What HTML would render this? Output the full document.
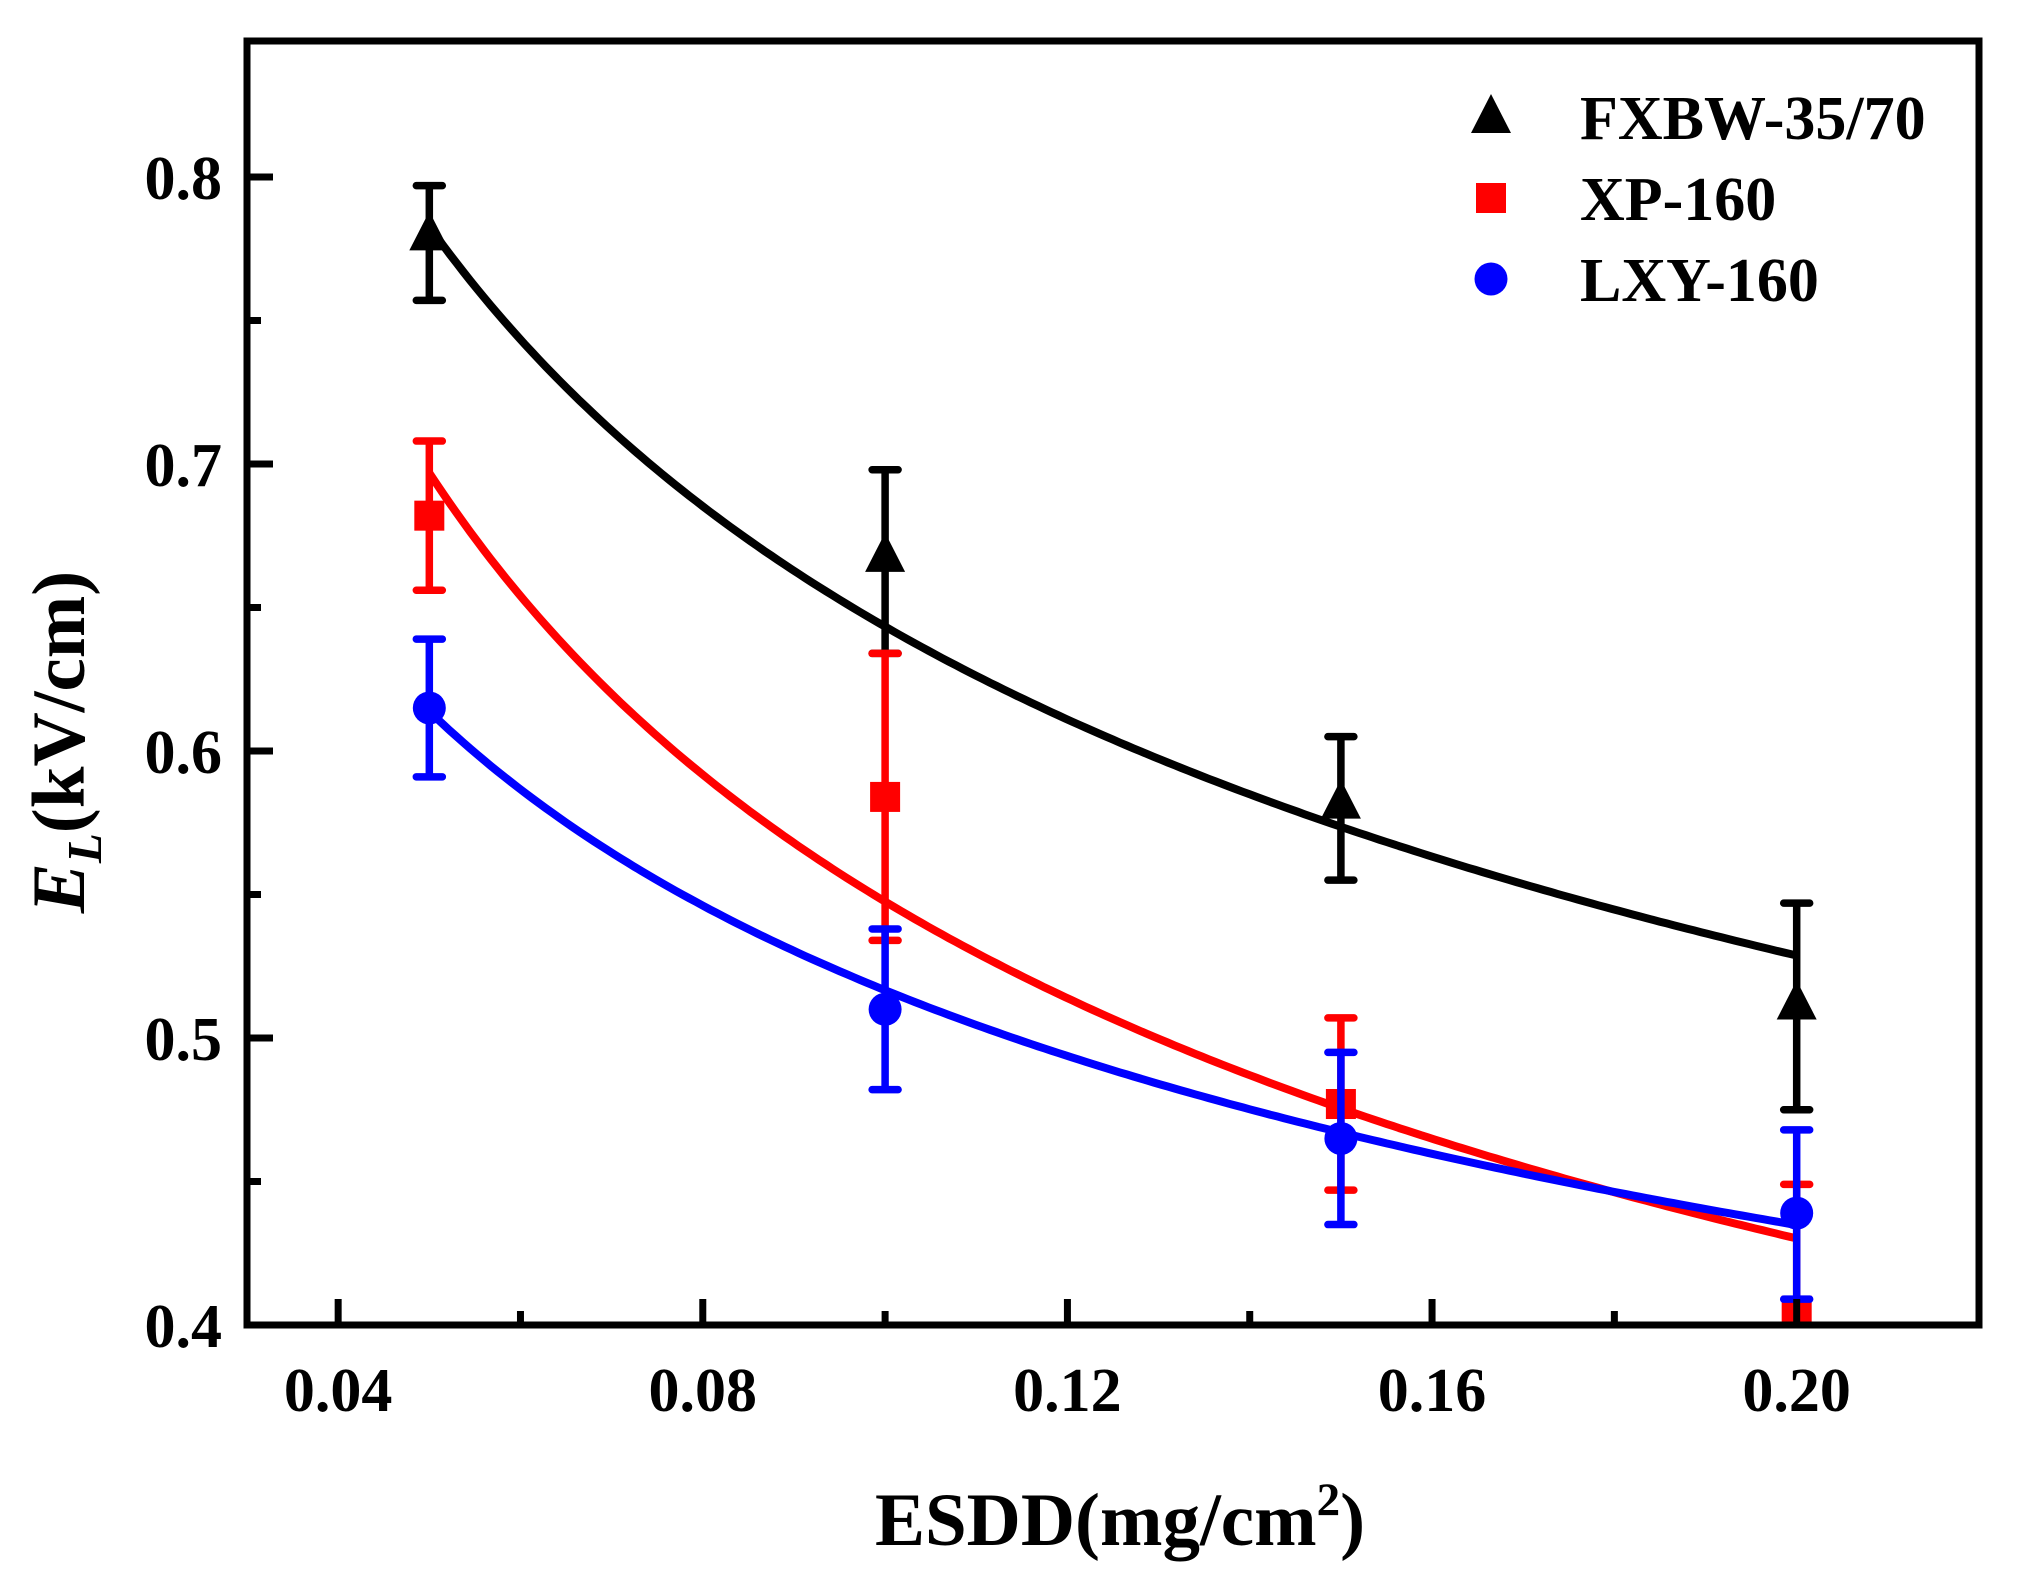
<!DOCTYPE html>
<html><head><meta charset="utf-8"><style>
html,body{margin:0;padding:0;background:#fff;}
svg{display:block;font-family:"Liberation Serif",serif;font-weight:bold;}
</style></head><body>
<svg id="chart" width="2027" height="1583" viewBox="0 0 2027 1583" xmlns="http://www.w3.org/2000/svg">
<rect x="0" y="0" width="2027" height="1583" fill="#fff"/>
<g id="plot"></g>
<g id="axes"></g>
<g id="legend"></g>
<text x="1120" y="1545" font-size="75" text-anchor="middle">ESDD(mg/cm<tspan font-size="47" dy="-30">2</tspan><tspan dy="30">)</tspan></text>
<text transform="translate(84,742) rotate(-90)" font-size="75" text-anchor="middle"><tspan font-style="italic">E</tspan><tspan font-style="italic" font-size="49" dy="17">L</tspan><tspan dy="-17">(kV/cm)</tspan></text>
</svg>
<script>
const xValues = [0.05, 0.10, 0.15, 0.20];
const fxbwValues = [0.780, 0.668, 0.582, 0.512];
const fxbwErrHigh = [0.797, 0.698, 0.605, 0.547];
const fxbwErrLow = [0.757, 0.634, 0.555, 0.475];
const xpValues = [0.682, 0.584, 0.477, 0.405];
const xpErrHigh = [0.708, 0.634, 0.507, 0.449];
const xpErrLow = [0.656, 0.534, 0.447, 0.361];
const lxyValues = [0.615, 0.510, 0.465, 0.439];
const lxyErrHigh = [0.639, 0.538, 0.495, 0.468];
const lxyErrLow = [0.591, 0.482, 0.435, 0.409];
const fitA = [0.3353, 0.2457, 0.2914];
const fitB = [-0.283, -0.348, -0.2487];
const seriesNames = ["FXBW-35/70", "XP-160", "LXY-160"];
const xTickLabels = ["0.04", "0.08", "0.12", "0.16", "0.20"];
const xTickValues = [0.04, 0.08, 0.12, 0.16, 0.20];
const xMinorValues = [0.06, 0.10, 0.14, 0.18];
const yTickLabels = ["0.4", "0.5", "0.6", "0.7", "0.8"];
const yTickValues = [0.4, 0.5, 0.6, 0.7, 0.8];
const yMinorValues = [0.45, 0.55, 0.65, 0.75];

const NS = "http://www.w3.org/2000/svg";
const L = 247, R = 1979, T = 41, B = 1325;
const X0 = 0.03, X1 = 0.22;
const Y0 = 0.4, Y1 = 0.4 + (B - T) / 2870;
function sx(v) { return L + (v - X0) / (X1 - X0) * (R - L); }
function sy(v) { return B - (v - Y0) / (Y1 - Y0) * (B - T); }
function mk(tag, attrs, parent) {
  const e = document.createElementNS(NS, tag);
  for (const k in attrs) e.setAttribute(k, attrs[k]);
  parent.appendChild(e);
  return e;
}
const plot = document.getElementById("plot");
const axes = document.getElementById("axes");
const legend = document.getElementById("legend");

const clip = mk("clipPath", { id: "clipR" }, plot);
mk("rect", { x: L, y: T, width: R - L, height: B - T }, clip);

const series = [
  { name: "fxbw", color: "#000", vals: fxbwValues, hi: fxbwErrHigh, lo: fxbwErrLow, marker: "tri" },
  { name: "xp", color: "#f00", vals: xpValues, hi: xpErrHigh, lo: xpErrLow, marker: "sq" },
  { name: "lxy", color: "#00f", vals: lxyValues, hi: lxyErrHigh, lo: lxyErrLow, marker: "circ" }
];

function drawMarker(type, cx, cy, color, parent) {
  let e;
  if (type === "tri") e = mk("polygon", { points: `${cx},${cy - 23} ${cx - 20},${cy + 16} ${cx + 20},${cy + 16}`, fill: color }, parent);
  else if (type === "sq") e = mk("rect", { x: cx - 15, y: cy - 15, width: 30, height: 30, fill: color }, parent);
  else e = mk("circle", { cx: cx, cy: cy, r: 16.5, fill: color }, parent);
  return e;
}

series.forEach((s, si) => {
  const g = mk("g", { "clip-path": "url(#clipR)" }, plot);
  
  
  const a = fitA[si], b = fitB[si];
  let d = "";
  const xa = xValues[0], xb = xValues[xValues.length - 1];
  for (let i = 0; i <= 200; i++) {
    const xv = xa + (xb - xa) * i / 200;
    d += (i ? "L" : "M") + sx(xv).toFixed(1) + "," + sy(a * Math.pow(xv, b)).toFixed(1);
  }
  const fl = mk("path", { d: d, fill: "none", stroke: s.color, "stroke-width": 8 }, g);
  
  
  xValues.forEach((xv, i) => {
    const cx = sx(xv);
    const eb = mk("path", {
      d: `M${cx},${sy(s.hi[i])}V${sy(s.lo[i])}M${cx - 13},${sy(s.hi[i])}H${cx + 13}M${cx - 13},${sy(s.lo[i])}H${cx + 13}`,
      stroke: s.color, "stroke-width": 7.5, "stroke-linecap": "round", fill: "none"
    }, g);
    
    
    const m = drawMarker(s.marker, cx, sy(s.vals[i]), s.color, g);
    
    
  });
});

const fr = mk("rect", { x: L, y: T, width: R - L, height: B - T, fill: "none", stroke: "#000", "stroke-width": 7 }, axes);


xTickValues.forEach((v, i) => {
  const t = mk("line", { x1: sx(v), x2: sx(v), y1: B, y2: B - 26, stroke: "#000", "stroke-width": 7 }, axes);
  
  
  const lb = mk("text", { x: sx(v), y: 1411, "font-size": 62, "text-anchor": "middle" }, axes);
  lb.textContent = xTickLabels[i];
  
  
});
xMinorValues.forEach(v => {
  const t = mk("line", { x1: sx(v), x2: sx(v), y1: B, y2: B - 14, stroke: "#000", "stroke-width": 7 }, axes);
  
  
});
yTickValues.forEach((v, i) => {
  const t = mk("line", { x1: L, x2: L + 26, y1: sy(v), y2: sy(v), stroke: "#000", "stroke-width": 7 }, axes);
  
  
  const lb = mk("text", { x: 222, y: sy(v) + 22, "font-size": 62, "text-anchor": "end" }, axes);
  lb.textContent = yTickLabels[i];
  
  
});
yMinorValues.forEach(v => {
  const t = mk("line", { x1: L, x2: L + 14, y1: sy(v), y2: sy(v), stroke: "#000", "stroke-width": 7 }, axes);
  
  
});

const legY = [117, 198, 279];
series.forEach((s, i) => {
  const g = mk("g", {}, legend);
  
  
  drawMarker(s.marker, 1491, legY[i], s.color, g);
  const t = mk("text", { x: 1580, y: legY[i] + 22, "font-size": 62 }, g);
  t.textContent = seriesNames[i];
});
</script>
</body></html>
